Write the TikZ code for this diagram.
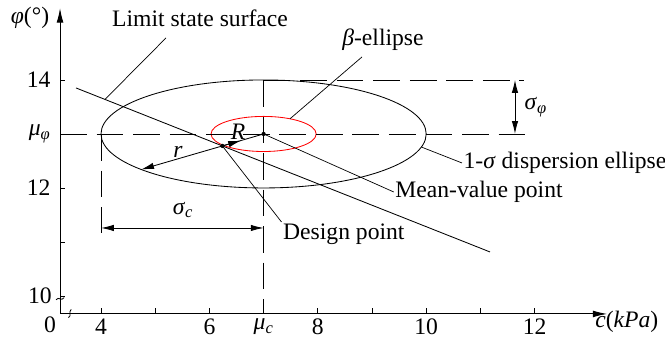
\documentclass[tikz,border=0pt]{standalone}
\usepackage{fontspec}
\setmainfont{Liberation Serif}
\usetikzlibrary{arrows.meta,positioning}

\begin{document}
\begin{tikzpicture}[
  x=1.355cm, y=1.35cm,
  font=\fontsize{16.8}{19}\selectfont,
  thin line/.style={line width=0.6pt},
  axis/.style={-{Latex[length=3.6mm,width=1.7mm]}, line width=0.7pt},
  dashline/.style={line width=0.6pt, dash pattern=on 19pt off 7pt},
  lead/.style={line width=0.5pt},
  arr/.style={-{Latex[length=3.2mm,width=1.6mm]}, line width=0.6pt},
  dim/.style={{Latex[length=3.2mm,width=1.6mm]}-{Latex[length=3.2mm,width=1.6mm]}, line width=0.6pt},
  lbl/.style={inner sep=1pt},
  dot/.style={circle, fill, inner sep=0pt, minimum size=3pt}
]
\useasboundingbox (2.1365,9.185) rectangle (14.406,15.481);

\coordinate (O) at (3.244,9.667);
\coordinate (ytop) at (3.244,15.33);
\coordinate (xend) at (13.34,9.667);
\coordinate (mu) at (7,13);
\draw[axis] (O) -- (ytop);
\draw[axis] (O) -- (xend);
\foreach \v in {14,12,11,10}
  \draw[thin line] (3.244,\v) -- ++(0.09,0);
\foreach \u in {4,5,6,8,9,10,11,12}
  \draw[thin line] (\u,9.667) -- ++(0,0.11);
\draw[thin line] (3.17,9.93) .. controls (3.22,10.0) and (3.27,9.89) .. (3.32,9.97);
\draw[thin line] (3.40,9.60) .. controls (3.47,9.64) and (3.39,9.70) .. (3.45,9.75);

\node[lbl, anchor=east] (t14) at (3.10,14) {14};
\node[lbl, anchor=east] (tmuphi) at (3.10,13) {\textit{μ}\textsubscript{\textit{φ}}};
\node[lbl, anchor=east] (t12) at (3.10,12) {12};
\node[lbl, anchor=east] (t10) at (3.12,10) {10};
\node[lbl] (t0) at (3.059,9.463) {0};
\foreach \u/\t in {4/4,6/6,7/\textit{μ}\textsubscript{\textit{c}},8/8,10/10,12/12}
  \node[lbl] (tx\u) at (\u,9.426) {\t};
\node[lbl] (ylab) at (2.69,15.148) {\textit{φ}(°)};
\node[lbl] (xlab) at (13.70,9.52) {\textit{c}(\textit{kPa})};

\draw[thin line] (mu) ellipse [x radius=3, y radius=1];
\draw[thin line, red] (mu) ellipse [x radius=0.97, y radius=0.325];
\draw[dashline] (O |- mu) -- (11.86,13);
\draw[dashline] (7,14) -- (11.8,14);
\draw[dashline] (7,14) -- (O -| mu);
\draw[dashline] (4,13) -- (4,11.167);

\draw[dim] (11.638,14) -- (11.638,13);
\node[lbl, anchor=west] (sphi) at (11.786,13.5) {\textit{σ}\textsubscript{\textit{φ}}};
\draw[dim] (4,11.259) -- (7,11.259);
\node[lbl] (sc) at (5.513,11.593) {\textit{σ}\textsubscript{\textit{c}}};

\coordinate (ls1) at (3.539,13.852);
\coordinate (ls2) at (11.177,10.815);
\draw[thin line] (ls1) -- (ls2);

\node[dot] (mean) at (mu) {};
\node[dot] (dp) at (6.239,12.778) {};
\coordinate (rend) at (4.742,12.342);
\coordinate (Rend) at (6.583,12.877);
\draw[arr] (mean.center) -- (rend);
\draw[arr] (dp.center) -- (Rend);
\node[lbl] (rlab) at (5.42,12.67) {\textit{r}};
\node[lbl] (Rlab) at (6.528,13.04) {\textit{R}};

\node[lbl] (lim) at (5.827,15.148) {Limit state surface};
\coordinate (limA) at (5.199,14.778);
\coordinate (limB) at (4.074,13.64);
\draw[lead] (limA) -- (limB);

\node[lbl] (beta) at (9.203,14.74) {\textit{β}-ellipse};
\coordinate (betaA) at (8.815,14.426);
\coordinate (betaB) at (7.4875,13.281);
\draw[lead] (betaA) -- (betaB);

\coordinate (sigA) at (9.911,12.758);
\node[lbl, anchor=west] (sig) at (10.66,12.463) {1-\textit{σ} dispersion ellipse};
\draw[lead] (sigA) -- (sig.west);

\node[lbl, anchor=west] (mv) at (9.40,11.926) {Mean-value point};
\draw[lead] (mean.center) -- (mv.west);

\node[lbl, anchor=north west] (dsg) at (7.33,11.37) {Design point};
\draw[lead] (dp.center) -- (dsg.north west);
\end{tikzpicture}
\end{document}
